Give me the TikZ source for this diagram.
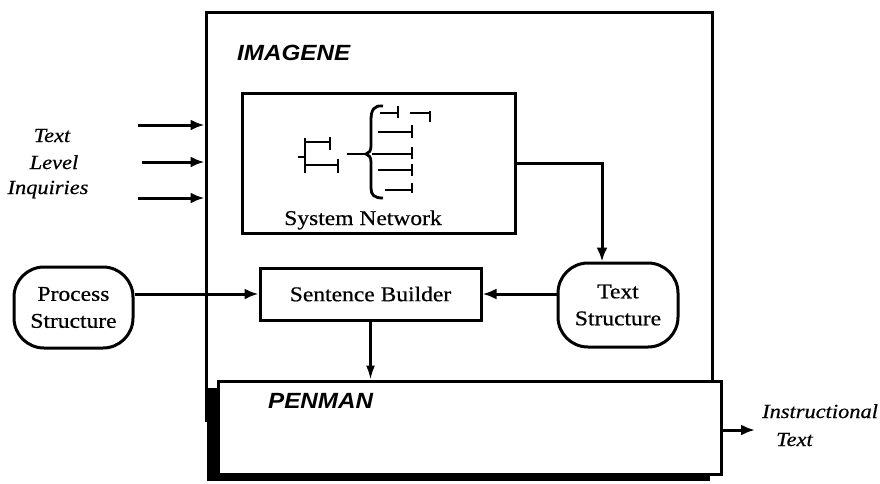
\documentclass[tikz,border=0pt]{standalone}
\usepackage{fontspec}
\setmainfont{Liberation Serif}[FakeStretch=1.12, FakeBold=0.5]
\newfontfamily\headsans{Liberation Sans}[FakeStretch=1.1]
\usetikzlibrary{arrows.meta}

\tikzset{
  body/.style={font=\fontsize{21}{27}\selectfont, align=center, inner sep=0pt},
  box/.style={body, draw, fill=white, line width=3pt},
  roundbox/.style={box, rounded corners=30pt},
  inquiry/.style={font=\fontsize{20}{25}\selectfont\itshape, inner sep=0pt},
  title/.style={font=\fontsize{22}{25}\selectfont\headsans\bfseries\itshape, inner sep=0pt},
  flow/.style={-{Latex[length=14pt,width=11pt]}, line width=3pt},
  thinflow/.style={-{Latex[length=14pt,width=9pt]}, line width=2.2pt},
  netline/.style={line width=2.8pt},
}

\begin{document}
\begin{tikzpicture}[x=1pt,y=-1pt]
\useasboundingbox (0,0) rectangle (880,483);

% IMAGENE frame
\node[draw, line width=3pt, minimum width=506pt, minimum height=408pt, inner sep=0pt]
  (imagene) at (459,216) {};
\node[title, anchor=base west] (imgtitle) at (237,60) {IMAGENE};

% system network box and its glyph
\node[box, minimum width=273pt, minimum height=140pt] (sysnet) at (378.5,163) {};
\node[body, anchor=base] (sysnettext) at (363,225) {System Network};

% small system on the left
\draw[netline] (305,138) -- (305,173);
\draw[netline] (298,157) -- (305,157);
\draw[netline] (305,142) -- (330,142);
\draw[netline] (330,137) -- (330,150);
\draw[netline] (305,165) -- (338,165);
\draw[netline] (338,159) -- (338,173);
% entry line and brace
\draw[netline] (347,154) -- (366,154);
\draw[netline] (383,106) .. controls (374,105) and (371,110) .. (371,120)
  -- (371,146) .. controls (371,151) and (369,153) .. (366,154)
  .. controls (369,155) and (371,157) .. (371,162)
  -- (371,188) .. controls (371,195) and (374,198) .. (383,198);
% features
\draw[netline] (380,113) -- (398,113);
\draw[netline] (398,106) -- (398,118);
\draw[netline] (410,113) -- (430,113);
\draw[netline] (430,111) -- (430,122);
\draw[netline] (378,132) -- (412,132);
\draw[netline] (412,125) -- (412,138);
\draw[netline] (372,154) -- (412,154);
\draw[netline] (412,147) -- (412,159);
\draw[netline] (378,170) -- (412,170);
\draw[netline] (412,164) -- (412,176);
\draw[netline] (385,190) -- (412,190);
\draw[netline] (412,183) -- (412,193);

% inner modules
\node[box, minimum width=221pt, minimum height=52pt] (builder) at (370.5,294) {Sentence Builder};
\node[roundbox, minimum width=119pt, minimum height=81pt] (process) at (73.5,307.5) {Process\\Structure};
\node[roundbox, minimum width=120pt, minimum height=84pt] (textstr) at (618,305) {Text\\Structure};

% PENMAN with its drop shadow
\fill[black] (207,388) rectangle (710,481);
\node[box, minimum width=503pt, minimum height=93pt] (penman) at (469.5,427.5) {};
\node[title, anchor=base west] (pentitle) at (268,408) {PENMAN};

% text level inquiries
\node[inquiry, anchor=base] (inqa) at (52,142) {Text};
\node[inquiry, anchor=base] (inqb) at (54,169) {Level};
\node[inquiry, anchor=base] (inqc) at (48,194) {Inquiries};
\coordinate (ina) at (138,125);
\coordinate (inb) at (142,162);
\coordinate (inc) at (138,198);
\draw[flow] (ina) -- (ina -| imagene.west);
\draw[flow] (inb) -- (inb -| imagene.west);
\draw[flow] (inc) -- (inc -| imagene.west);

% data flow
\draw[flow] (process.east |- builder.west) -- (builder.west);
\draw[flow] (textstr.west |- builder.east) -- (builder.east);
\draw[flow] (sysnet.east) -| ([xshift=-16pt]textstr.north);
\draw[thinflow] (builder.south) -- (builder.south |- penman.north);

% output
\node[inquiry, anchor=base west] (outa) at (762,418) {Instructional};
\node[inquiry, anchor=base west] (outb) at (776,446) {Text};
\coordinate (outend) at (755,430);
\draw[flow] (penman.east |- outend) -- (outend);
\end{tikzpicture}
\end{document}
